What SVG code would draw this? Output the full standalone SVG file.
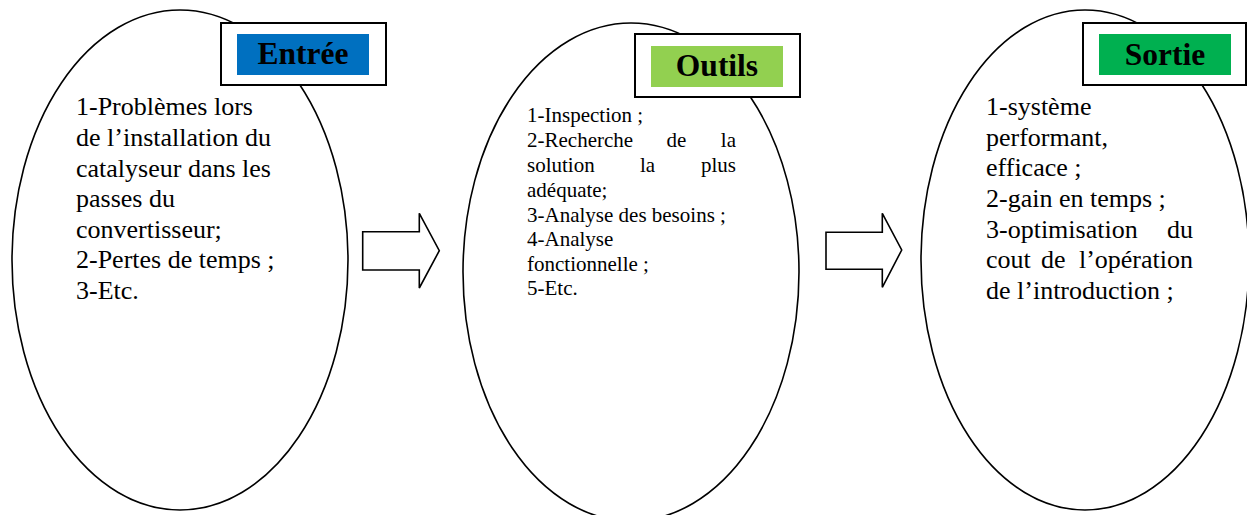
<svg xmlns="http://www.w3.org/2000/svg" width="1247" height="515" viewBox="0 0 1247 515">
  <style>
    .oval { fill: #ffffff; stroke: #000000; stroke-width: 1.6; }
    .frame { fill: #ffffff; stroke: #000000; stroke-width: 2; }
    .title { font-family: "Liberation Serif", serif; font-weight: bold; font-size: 31.5px; fill: #000000; text-anchor: middle; }
    .body { font-family: "Liberation Serif", serif; font-weight: normal; font-size: 26px; fill: #000000; }
    .small { font-family: "Liberation Serif", serif; font-weight: normal; font-size: 21px; fill: #000000; }
    .end { text-anchor: end; }
    .arrow { fill: #ffffff; stroke: #000000; stroke-width: 1.6; stroke-linejoin: miter; }
  </style>
  <rect width="1247" height="515" fill="#ffffff"/>

  <!-- Input stage -->
  <g id="entree">
    <ellipse class="oval" cx="180" cy="260" rx="168" ry="250"/>
    <rect class="frame" x="221" y="23" width="165" height="62"/>
    <rect x="237" y="34" width="132" height="41" fill="#0070C0"/>
    <text class="title" x="303" y="64">Entrée</text>
    <text class="body" x="76" y="115">1-Problèmes lors</text>
    <text class="body" x="76" y="146">de l’installation du</text>
    <text class="body" x="76" y="177">catalyseur dans les</text>
    <text class="body" x="76" y="207">passes du</text>
    <text class="body" x="76" y="238">convertisseur;</text>
    <text class="body" x="76" y="268">2-Pertes de temps ;</text>
    <text class="body" x="76" y="299">3-Etc.</text>
  </g>

  <!-- Tools stage -->
  <g id="outils">
    <ellipse class="oval" cx="631" cy="272" rx="168" ry="249"/>
    <rect class="frame" x="635" y="34" width="165" height="63"/>
    <rect x="651" y="46" width="132" height="41" fill="#92D050"/>
    <text class="title" x="717" y="76">Outils</text>
    <text class="small" x="527" y="122">1-Inspection ;</text>
    <text class="small" x="527" y="147">2-Recherche</text>
    <text class="small" x="666.5" y="147">de</text>
    <text class="small end" x="736" y="147">la</text>
    <text class="small" x="527" y="172">solution</text>
    <text class="small" x="640" y="172">la</text>
    <text class="small end" x="736" y="172">plus</text>
    <text class="small" x="527" y="196.5">adéquate;</text>
    <text class="small" x="527" y="221.5">3-Analyse des besoins ;</text>
    <text class="small" x="527" y="246">4-Analyse</text>
    <text class="small" x="527" y="270.5">fonctionnelle ;</text>
    <text class="small" x="527" y="295">5-Etc.</text>
  </g>

  <!-- Output stage -->
  <g id="sortie">
    <ellipse class="oval" cx="1085" cy="260" rx="164" ry="250"/>
    <rect class="frame" x="1083" y="23" width="163" height="62"/>
    <rect x="1099" y="34" width="132" height="41" fill="#00B050"/>
    <text class="title" x="1165" y="65">Sortie</text>
    <text class="body" x="986" y="115">1-système</text>
    <text class="body" x="986" y="146">performant,</text>
    <text class="body" x="986" y="176">efficace ;</text>
    <text class="body" x="986" y="207">2-gain en temps ;</text>
    <text class="body" x="986" y="237.5">3-optimisation</text>
    <text class="body end" x="1193" y="237.5">du</text>
    <text class="body" x="986" y="268">cout</text>
    <text class="body" x="1041" y="268">de</text>
    <text class="body end" x="1193" y="268">l’opération</text>
    <text class="body" x="986" y="299">de l’introduction ;</text>
  </g>

  <!-- Block arrows between stages -->
  <g id="connectors">
    <polygon class="arrow" points="362.7,231.7 419.3,231.7 419.3,213.3 439.3,250.7 419.3,288 419.3,270 362.7,270"/>
    <polygon class="arrow" points="826,232.3 882.3,232.3 882.3,213.3 901.7,250 882.3,287.3 882.3,269.3 826,269.3"/>
  </g>
</svg>
